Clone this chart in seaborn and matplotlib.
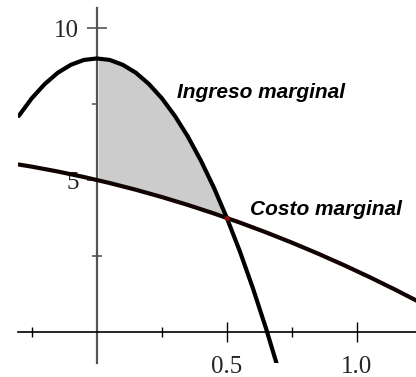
import numpy as np
import pandas as pd
import matplotlib
matplotlib.use("Agg")
import matplotlib.pyplot as plt
import seaborn as sns

# Quantity grid and the two marginal curves
q_mr = [-0.30, -0.25, -0.20, -0.15, -0.10, -0.05, 0.00, 0.05, 0.10, 0.15, 0.20,
        0.25, 0.30, 0.35, 0.40, 0.45, 0.50, 0.55, 0.60, 0.65, 0.70]
ingreso = [7.11, 7.69, 8.16, 8.53, 8.79, 8.95, 9.00, 8.95, 8.79, 8.53, 8.16,
           7.69, 7.11, 6.43, 5.64, 4.75, 3.75, 2.65, 1.44, 0.13, -1.29]

q_mc = [-0.30, -0.25, -0.20, -0.15, -0.10, -0.05, 0.00, 0.05, 0.10, 0.15, 0.20,
        0.25, 0.30, 0.35, 0.40, 0.45, 0.50, 0.55, 0.60, 0.65, 0.70, 0.75,
        0.80, 0.85, 0.90, 0.95, 1.00, 1.05, 1.10, 1.15, 1.20, 1.25]
costo = [5.51, 5.44, 5.36, 5.28, 5.19, 5.10, 5.00, 4.90, 4.79, 4.68, 4.56,
         4.44, 4.31, 4.18, 4.04, 3.90, 3.75, 3.60, 3.44, 3.28, 3.11, 2.94,
         2.76, 2.58, 2.39, 2.20, 2.00, 1.80, 1.59, 1.38, 1.16, 0.94]

# Equilibrium point where both curves meet
eq_q = [0.5]
eq_p = [3.75]

x_major = [0.5, 1.0]
x_minor = [-0.25, 0.25, 0.75]
y_major = [5, 10]
y_minor = [2.5, 7.5]

df_mr = pd.DataFrame({"q": q_mr, "p": ingreso})
df_mc = pd.DataFrame({"q": q_mc, "p": costo})

sns.set_style("white")

fig = plt.figure(figsize=(4.16, 3.77), dpi=100)
ax = fig.add_axes([18 / 416, 14 / 377, 398 / 416, 355 / 377])

# Shaded surplus area between the curves from 0 to the equilibrium quantity
shade = df_mr[(df_mr.q >= 0) & (df_mr.q <= eq_q[0])].merge(df_mc, on="q", suffixes=("_mr", "_mc"))
ax.fill_between(shade.q, shade.p_mc, shade.p_mr, facecolor="#cccccc",
                edgecolor="white", linewidth=2.2, zorder=1.5)

sns.lineplot(data=df_mr, x="q", y="p", ax=ax, color="black", linewidth=3.0,
             sort=False, zorder=3)
sns.lineplot(data=df_mc, x="q", y="p", ax=ax, color="#120303", linewidth=3.0,
             sort=False, zorder=3)
ax.scatter(eq_q, eq_p, s=14, color="#8a0a0a", zorder=4, linewidths=0)

ax.set_xlim(-0.303, 1.227)
ax.set_ylim(-1.02, 10.66)
ax.set_xlabel("")
ax.set_ylabel("")

# Axes crossing at the origin
for side in ("top", "right"):
    ax.spines[side].set_visible(False)
ax.spines["left"].set_position(("data", 0))
ax.spines["bottom"].set_position(("data", 0))
ax.spines["left"].set_color("#555555")
ax.spines["left"].set_linewidth(1.6)
ax.spines["bottom"].set_color("black")
ax.spines["bottom"].set_linewidth(1.2)
for sp in ax.spines.values():
    sp.set_zorder(2)

ax.set_xticks(x_major)
ax.set_xticks(x_minor, minor=True)
ax.set_xticklabels(["0.5", "1.0"])
ax.set_yticks(y_major)
ax.set_yticks(y_minor, minor=True)
ax.set_yticklabels(["5", "10"])

for lab in ax.get_xticklabels() + ax.get_yticklabels():
    lab.set_fontfamily("Liberation Serif")
    lab.set_fontsize(18)

ax.tick_params(axis="x", which="major", direction="inout", length=14, width=1.0,
               color="black", pad=10, bottom=True)
ax.tick_params(axis="x", which="minor", direction="inout", length=7, width=1.0,
               color="black", bottom=True)
ax.tick_params(axis="y", which="major", direction="inout", length=14, width=1.2,
               color="#555555", pad=6, left=True)
ax.tick_params(axis="y", which="minor", direction="inout", length=7, width=1.2,
               color="#555555", left=True)

label_font = dict(family="Liberation Sans", weight="bold", style="italic",
                  fontsize=15, color="black")
ax.text(0.31, 7.70, "Ingreso marginal", ha="left", va="baseline", **label_font)
ax.text(0.59, 3.85, "Costo marginal", ha="left", va="baseline", **label_font)

ax.grid(False)
fig.savefig("out.png", dpi=100, facecolor="white")
